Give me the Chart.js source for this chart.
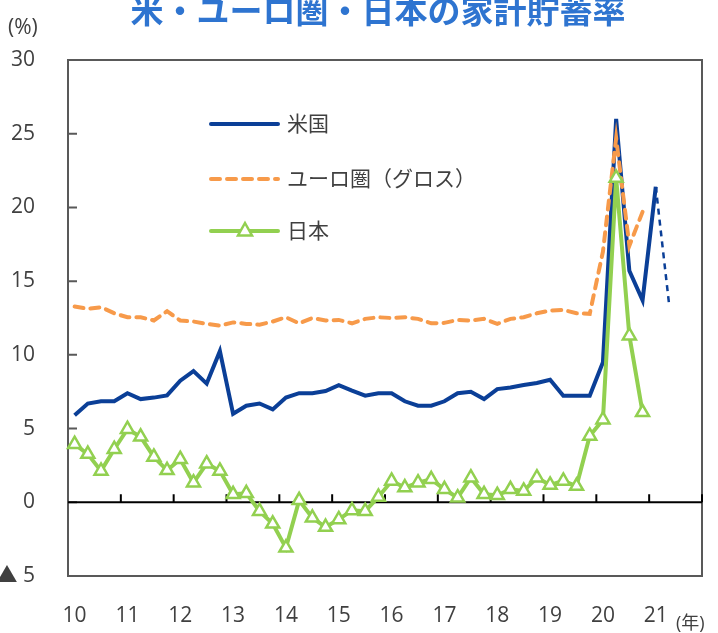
<!DOCTYPE html>
<html lang="ja">

<head>
  <meta charset="UTF-8">
  <title>米・ユーロ圏・日本の家計貯蓄率</title>
  <style>
    body { margin: 0; background: #fff; }
    .grafico { width: 718px; height: 633px; position: relative; }
  </style>
</head>

<body>
  <div class="grafico">
    <canvas id="chartPoupanca"></canvas>
  </div>

  <script src="https://cdn.jsdelivr.net/npm/chart.js"></script>
  <script>
    // eixo x: anos e trimestres (2010Q1 .. 2021Q4)
    const years = ['10', '11', '12', '13', '14', '15', '16', '17', '18', '19', '20', '21'];
    const quarters = years.flatMap(y => ['Q1', 'Q2', 'Q3', 'Q4'].map(q => y + q));
    const yTicks = [-5, 0, 5, 10, 15, 20, 25, 30];

    // series (%)
    const usRate = [5.9, 6.7, 6.85, 6.85, 7.4, 7.0, 7.1, 7.25, 8.25, 8.9, 8.05, 10.25,
      6.0, 6.55, 6.7, 6.3, 7.1, 7.4, 7.4, 7.55, 7.95, 7.57, 7.23, 7.4,
      7.4, 6.85, 6.55, 6.55, 6.85, 7.4, 7.5, 7.0, 7.68, 7.79, 7.95, 8.09,
      8.31, 7.23, 7.23, 7.23, 9.5, 26.0, 15.7, 13.7, 21.4, 13.5];
    const usForecastFrom = 45; // ultimo ponto tracejado

    const euroRate = [13.28, 13.12, 13.23, 12.82, 12.55, 12.55, 12.33, 12.96, 12.33, 12.26, 12.1, 11.98,
      12.2, 12.1, 12.05, 12.26, 12.55, 12.14, 12.5, 12.33, 12.37, 12.14, 12.44, 12.55,
      12.5, 12.55, 12.44, 12.14, 12.17, 12.37, 12.33, 12.44, 12.1, 12.44, 12.55, 12.82,
      13.0, 13.05, 12.82, 12.78, 17.0, 24.7, 17.4, 19.7];

    const jpRate = [3.94, 3.27, 2.13, 3.6, 4.96, 4.44, 3.08, 2.17, 2.92, 1.33, 2.62, 2.13,
      0.54, 0.61, -0.6, -1.46, -3.09, 0.13, -1.05, -1.68, -1.16, -0.55, -0.6, 0.36,
      1.45, 1.0, 1.33, 1.56, 0.88, 0.31, 1.67, 0.54, 0.48, 0.88, 0.77, 1.67,
      1.18, 1.45, 1.1, 4.5, 5.6, 22.0, 11.3, 6.1];

    const seriesNames = ['米国', 'ユーロ圏（グロス）', '日本'];

    const BLUE = '#0b3f97';
    const ORANGE = '#f79a4a';
    const GREEN = '#92d050';
    const TEXT = '#404040';
    const FONT = "'Open Sans', 'Noto Sans CJK JP', sans-serif";

    // moldura, linha do zero, ticks, titulo e legenda
    const molduraPlugin = {
      id: 'moldura',
      beforeDatasetsDraw(chart) {
        const ctx = chart.ctx;
        const a = chart.chartArea;
        const x = chart.scales.x;
        const y = chart.scales.y;
        ctx.save();
        ctx.strokeStyle = '#595959';
        ctx.lineWidth = 2;
        ctx.strokeRect(a.left, a.top, a.right - a.left, a.bottom - a.top);
        ctx.beginPath();
        yTicks.forEach(function (v) {
          const py = y.getPixelForValue(v);
          ctx.moveTo(a.left, py);
          ctx.lineTo(a.left + 9, py);
        });
        ctx.stroke();

        const y0 = y.getPixelForValue(0);
        ctx.strokeStyle = '#000';
        ctx.lineWidth = 2;
        ctx.beginPath();
        ctx.moveTo(a.left, y0);
        ctx.lineTo(a.right, y0);
        for (let i = 1; i <= years.length; i++) {
          const px = x.getPixelForValue(i * 4 - 0.5);
          ctx.moveTo(px, y0);
          ctx.lineTo(px, y0 - 8);
        }
        ctx.stroke();
        ctx.restore();
      },
      afterDraw(chart) {
        const ctx = chart.ctx;
        ctx.save();
        // titulo (cortado no topo como no original)
        ctx.fillStyle = '#2e74d0';
        ctx.font = "bold 33px 'Noto Sans CJK JP', sans-serif";
        ctx.textAlign = 'center';
        ctx.textBaseline = 'alphabetic';
        ctx.fillText('米・ユーロ圏・日本の家計貯蓄率', 378, 23);

        ctx.fillStyle = TEXT;
        ctx.font = '21px ' + FONT;
        ctx.textAlign = 'left';
        ctx.fillText('(%)', 8, 34);
        ctx.font = '18px ' + FONT;
        ctx.fillText('(年)', 676, 629);

        // legenda
        const rows = [
          { y: 124, color: BLUE, dash: [], tri: false },
          { y: 179, color: ORANGE, dash: [9, 7], tri: false },
          { y: 231, color: GREEN, dash: [], tri: true }
        ];
        ctx.font = '21px ' + FONT;
        ctx.textBaseline = 'middle';
        rows.forEach(function (r, i) {
          ctx.strokeStyle = r.color;
          ctx.lineWidth = 4;
          ctx.lineCap = 'round';
          ctx.setLineDash(r.dash);
          ctx.beginPath();
          ctx.moveTo(211, r.y);
          ctx.lineTo(278, r.y);
          ctx.stroke();
          ctx.setLineDash([]);
          if (r.tri) {
            ctx.fillStyle = '#fff';
            ctx.lineWidth = 2.5;
            ctx.beginPath();
            ctx.moveTo(245, r.y - 8);
            ctx.lineTo(252, r.y + 4.5);
            ctx.lineTo(238, r.y + 4.5);
            ctx.closePath();
            ctx.fill();
            ctx.stroke();
          }
          ctx.fillStyle = TEXT;
          ctx.fillText(seriesNames[i], 287, r.y + 1);
        });
        ctx.restore();
      }
    };

    const dados = {
      labels: quarters,
      datasets: [{
        label: seriesNames[0],
        data: usRate,
        borderColor: BLUE,
        borderWidth: 4,
        pointRadius: 0,
        tension: 0,
        order: 3,
        segment: {
          borderDash: ctx => ctx.p1DataIndex >= usForecastFrom ? [6, 5] : undefined,
          borderWidth: ctx => ctx.p1DataIndex >= usForecastFrom ? 2.5 : undefined
        }
      }, {
        label: seriesNames[1],
        data: euroRate,
        borderColor: ORANGE,
        borderWidth: 4,
        borderDash: [9, 7],
        borderCapStyle: 'round',
        pointRadius: 0,
        tension: 0,
        order: 2
      }, {
        label: seriesNames[2],
        data: jpRate,
        borderColor: GREEN,
        borderWidth: 4,
        pointStyle: 'triangle',
        pointRadius: 7.5,
        pointBorderWidth: 2.5,
        pointBackgroundColor: '#fff',
        pointBorderColor: GREEN,
        tension: 0,
        order: 1
      }]
    };

    const config = {
      type: 'line',
      data: dados,
      options: {
        responsive: true,
        maintainAspectRatio: false,
        animation: false,
        layout: { padding: { top: 60, right: 16, left: 0, bottom: 0 } },
        plugins: {
          legend: { display: false },
          tooltip: { enabled: false }
        },
        scales: {
          x: {
            type: 'category',
            offset: true,
            grid: { display: false },
            border: { display: false },
            afterFit: function (scale) { scale.height = 57; },
            ticks: {
              autoSkip: false,
              maxRotation: 0,
              padding: 19,
              color: TEXT,
              font: { family: FONT, size: 21 },
              callback: function (val, idx) {
                const q = quarters[idx];
                return q.endsWith('Q1') ? q.slice(0, 2) : '';
              }
            }
          },
          y: {
            min: -5,
            max: 30,
            grid: { display: false },
            border: { display: false },
            afterFit: function (scale) { scale.width = 68; },
            afterBuildTicks: function (scale) {
              scale.ticks = yTicks.map(v => ({ value: v }));
            },
            ticks: {
              padding: 25,
              color: TEXT,
              font: { family: FONT, size: 21 },
              callback: function (v) { return v < 0 ? '▲ ' + Math.abs(v) : v; }
            }
          }
        }
      },
      plugins: [molduraPlugin]
    };

    let myChart = new Chart(document.getElementById('chartPoupanca'), config);
  </script>
</body>

</html>
